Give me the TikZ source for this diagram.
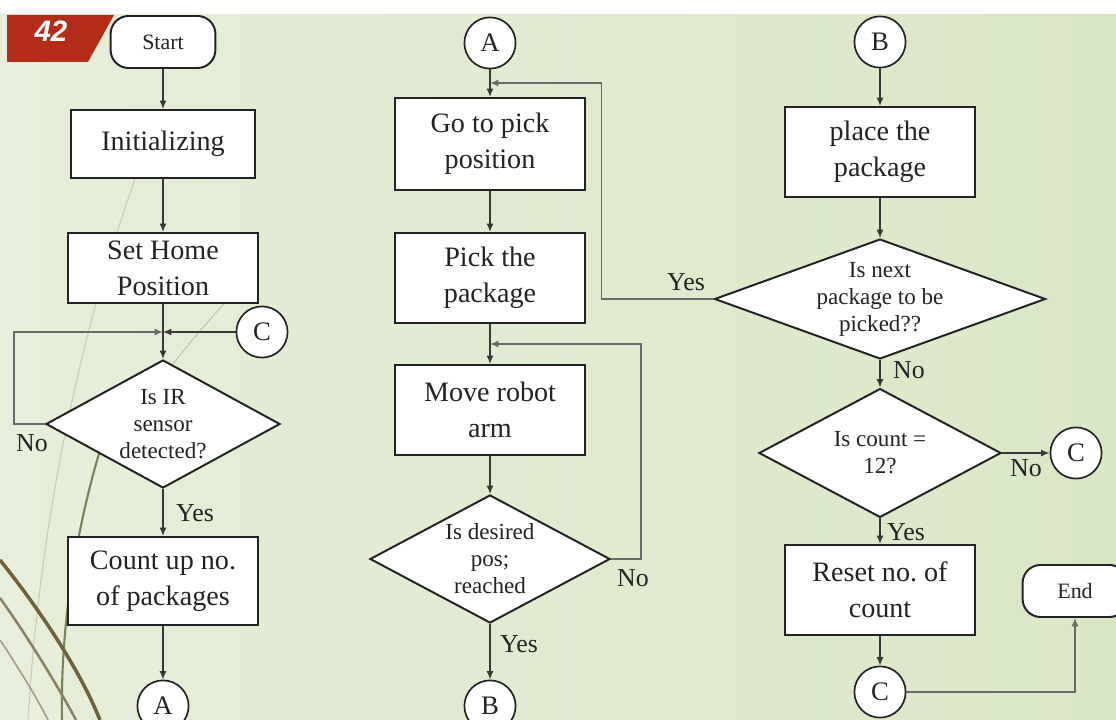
\documentclass[tikz,border=0pt]{standalone}
\usepackage{fontspec}
\setmainfont{Liberation Serif}
\setsansfont{Liberation Sans}
\usetikzlibrary{shapes.geometric,arrows.meta}
\definecolor{slideleft}{RGB}{231, 238, 219}
\definecolor{slidelight}{RGB}{250, 250, 244}
\definecolor{slidegreen}{RGB}{218, 231, 197}
\definecolor{tagred}{RGB}{178, 44, 24}
\definecolor{inkdark}{RGB}{35, 35, 35}
\definecolor{linegray}{RGB}{55, 55, 55}
\definecolor{loopgray}{RGB}{105, 105, 105}
\definecolor{reed}{RGB}{112, 96, 60}
\definecolor{stem}{RGB}{122, 130, 90}

\tikzset{
  proc/.style={draw=inkdark, line width=1.4pt, fill=white, rectangle,
    minimum width=4.75cm, align=center, text=inkdark,
    font=\fontsize{20}{25.6}\selectfont},
  decision/.style={draw=inkdark, line width=1.4pt, fill=white, diamond,
    inner sep=0pt, align=center, text=inkdark,
    font=\fontsize{16.4}{19.2}\selectfont},
  terminal/.style={draw=inkdark, line width=1.4pt, fill=white, rectangle,
    rounded corners=0.45cm, minimum width=2.62cm, minimum height=1.3cm,
    text=inkdark, font=\fontsize{15.6}{18}\selectfont},
  joiner/.style={draw=inkdark, line width=1.2pt, fill=white, circle,
    minimum size=1.28cm, inner sep=0pt, text=inkdark,
    font=\fontsize{19}{22}\selectfont},
  flow/.style={->, draw=linegray, line width=1pt},
  loopback/.style={->, draw=loopgray, line width=1pt},
  answer/.style={text=inkdark, inner sep=0pt, font=\fontsize{18.4}{20}\selectfont},
}

\begin{document}
\begin{tikzpicture}[x=0.025cm, y=-0.025cm, >={Latex[length=6pt,width=5pt]}]
        \useasboundingbox (0,0) rectangle (1116,720);
        \clip (0,0) rectangle (1116,720);
        \fill[white] (0,0) rectangle (1116,720);
        \shade[left color=slideleft, middle color=slidelight, right color=slidegreen] (0,15) rectangle (1116,720);

        % reeds of the slide theme
        \draw[white!60!stem, line width=0.8pt] (140,165) .. controls (80,330) and (40,520) .. (28,720);
        \draw[white!55!stem, line width=0.8pt] (235,292) .. controls (190,340) and (150,390) .. (120,440);
        \draw[stem, line width=1.5pt] (104,437) .. controls (78,520) and (60,620) .. (62,720);
        \draw[reed, line width=2.5pt] (0,560) .. controls (40,610) and (80,670) .. (100,720);
        \draw[reed!80, line width=1.8pt] (0,598) .. controls (30,640) and (60,690) .. (76,720);
        \draw[reed!60, line width=1.2pt] (0,640) .. controls (20,670) and (38,700) .. (48,720);

        \fill[tagred] (7,15) -- (114,15) -- (88,62) -- (7,62) -- cycle;
        \node[text=white, font=\sffamily\bfseries\itshape\fontsize{21}{24}\selectfont] (slideno) at (51,31) {42};

        % left column
        \node[terminal] (start) at (163,42) {Start};
        \node[proc, minimum width=4.575cm, minimum height=1.7cm] (init) at (163,144) {Initializing};
        \node[proc, minimum height=1.75cm] (home) at (163,268) {Set Home\\Position};
        \coordinate (j1) at (163,332);
        \node[joiner] (cC1) at (262,332) {C};
        \node[decision, minimum width=5.85cm, minimum height=3.2cm, shape aspect=1.83] (irtest) at (163,424) {Is IR\\sensor\\detected?};
        \node[proc, minimum height=2.2cm] (count) at (163,581) {Count up no.\\of packages};
        \node[joiner] (cA1) at (163,706) {A};
        \node[answer] (noIR) at (32,443) {No};
        \node[answer] (yesIR) at (195,513) {Yes};

        % middle column
        \node[joiner] (cA2) at (490,43) {A};
        \coordinate (j2) at (490,83);
        \node[proc, minimum height=2.3cm] (goto) at (490,144) {Go to pick\\position};
        \node[proc, minimum height=2.25cm] (pick) at (490,278) {Pick the\\package};
        \coordinate (j3) at (490,344);
        \node[proc, minimum height=2.25cm] (move) at (490,410) {Move robot\\arm};
        \node[decision, minimum width=6cm, minimum height=3.2cm, shape aspect=1.88] (postest) at (490,559) {Is desired\\pos;\\reached};
        \node[joiner] (cB2) at (490,706) {B};
        \node[answer] (noPos) at (633,578) {No};
        \node[answer] (yesPos) at (519,644) {Yes};

        % right column
        \node[joiner] (cB3) at (880,42) {B};
        \node[proc, minimum height=2.25cm] (place) at (880,152) {place the\\package};
        \node[decision, minimum width=8.15cm, minimum height=2.95cm, shape aspect=2.76] (nexttest) at (880,299) {Is next\\package to be\\picked??};
        \node[decision, minimum width=6.05cm, minimum height=3.22cm, shape aspect=1.88] (counttest) at (880,453) {Is count =\\12?};
        \node[joiner] (cC3) at (1076,453) {C};
        \node[proc, minimum height=2.25cm] (reset) at (880,590) {Reset no.\ of\\count};
        \node[joiner] (cC4) at (880,692) {C};
        \node[terminal] (finish) at (1075,591) {End};
        \node[answer] (yesNext) at (686,282) {Yes};
        \node[answer] (noNext) at (909,370) {No};
        \node[answer] (noCount) at (1026,468) {No};
        \node[answer] (yesCount) at (906,532) {Yes};

        \draw[flow] (start) -- (init);
        \draw[flow] (init) -- (home);
        \draw[flow] (home) -- (irtest);
        \draw[loopback] (irtest.west) -- ++(-31,0) |- (j1);
        \draw[flow] (cC1) -- (j1);
        \draw[flow] (irtest) -- (count);
        \draw[flow] (count) -- (cA1);

        \draw[flow] (cA2) -- (goto);
        \draw[flow] (goto) -- (pick);
        \draw[flow] (pick) -- (move);
        \draw[flow] (move) -- (postest);
        \draw[loopback] (postest.east) -- ++(30,0) |- (j3);
        \draw[flow] (postest) -- (cB2);

        \draw[flow] (cB3) -- (place);
        \draw[flow] (place) -- (nexttest);
        \draw[loopback] (nexttest.west) -- ++(-112,0) |- (j2);
        \draw[flow] (nexttest) -- (counttest);
        \draw[flow] (counttest) -- (cC3);
        \draw[flow] (counttest) -- (reset);
        \draw[flow] (reset) -- (cC4);
        \draw[loopback] (cC4) -| (finish);
\end{tikzpicture}
\end{document}
